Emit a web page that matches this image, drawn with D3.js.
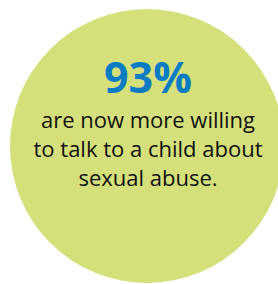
<!DOCTYPE html>
<html lang="en">
<head>
	<meta charset="utf-8">
	<title>93% stat bubble</title>
	<script src="https://d3js.org/d3.v7.min.js"></script>
	<style>
	body { margin: 0; background: #fff; }
	svg { display: block; }
	</style>
</head>
<body>
	<div id="chart"></div>
	<script>
		// values
		const statValues = [93];
		const statLabels = ["are now more willing", "to talk to a child about", "sexual abuse."];

		let xSize = 278;
		let ySize = 284;
		let cx = 147, cy = 146, r = 137;

		let svg = d3.select("#chart")
					.append("svg")
					.attr("width", xSize)
					.attr("height", ySize);

		// bubble
		svg.selectAll("circle.bubble")
			.data(statValues)
			.enter()
			.append("circle")
			.attr("class", "bubble")
			.attr("cx", cx)
			.attr("cy", cy)
			.attr("r", r)
			.style("fill", "#d5e07b");

		// big number
		svg.selectAll("text.big")
			.data(statValues)
			.enter()
			.append("text")
			.attr("class", "big")
			.attr("x", cx + 1)
			.attr("y", 93)
			.attr("text-anchor", "middle")
			.style("font-family", "'Open Sans', sans-serif")
			.style("font-weight", 700)
			.style("font-size", "43px")
			.style("fill", "#0a7cc4")
			.text(d => d + "%");

		// label lines
		let lineY = d3.scaleLinear().domain([0, 1]).range([128, 157]);
		svg.selectAll("text.label")
			.data(statLabels)
			.enter()
			.append("text")
			.attr("class", "label")
			.attr("x", cx + 1)
			.attr("y", (d, i) => lineY(i))
			.attr("text-anchor", "middle")
			.style("font-family", "'Open Sans', sans-serif")
			.style("font-size", "22px")
			.style("fill", "#111")
			.text(d => d);
	</script>
</body>
</html>
